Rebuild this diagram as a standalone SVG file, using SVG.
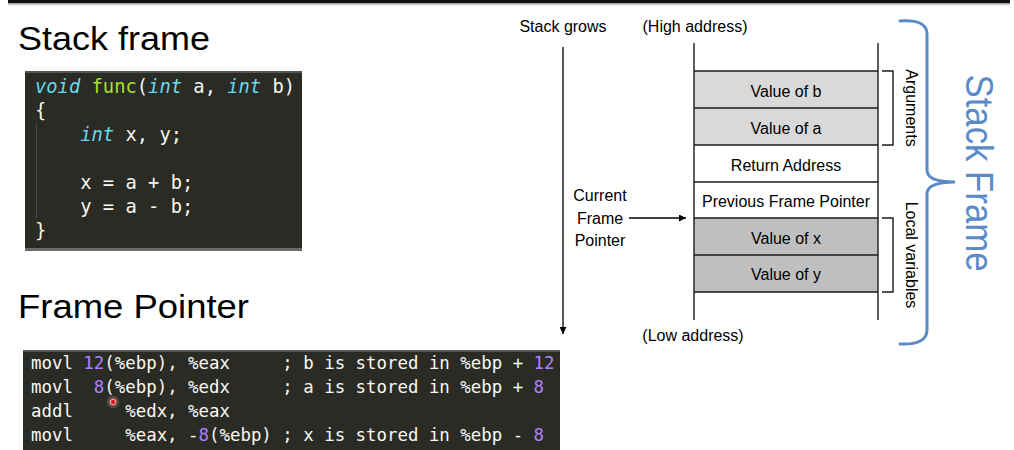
<svg xmlns="http://www.w3.org/2000/svg" width="1014" height="450" viewBox="0 0 1014 450">
  <defs>
    <linearGradient id="shadow" x1="0" y1="0" x2="0" y2="1">
      <stop offset="0" stop-color="#888"/>
      <stop offset="1" stop-color="#fff" stop-opacity="0"/>
    </linearGradient>
    <marker id="arrow" viewBox="0 0 10 10" refX="10" refY="5" markerWidth="7" markerHeight="7" markerUnits="userSpaceOnUse" orient="auto">
      <path d="M0,0 L10,5 L0,10 Z" fill="#000"/>
    </marker>
    <radialGradient id="glow">
      <stop offset="0" stop-color="#f08080" stop-opacity="0.8"/>
      <stop offset="1" stop-color="#f8c0c0" stop-opacity="0"/>
    </radialGradient>
  </defs>
  <style>
    .title { font-family: "Liberation Sans", Arial, sans-serif; font-size: 33px; fill: #000; }
    .lbl { font-family: "Liberation Sans", Arial, sans-serif; font-size: 16px; fill: #000; }
    .cell { font-family: "Liberation Sans", Arial, sans-serif; font-size: 16px; fill: #000; text-anchor: middle; }
    .code1 { font-family: "DejaVu Sans Mono", "Liberation Mono", monospace; font-size: 18.8px; fill: #f8f8f2; white-space: pre; }
    .code2 { font-family: "DejaVu Sans Mono", "Liberation Mono", monospace; font-size: 17.4px; fill: #f8f8f2; white-space: pre; }
    .kw { fill: #66d9ef; font-style: italic; }
    .fn { fill: #a6e22e; }
    .num { fill: #ae81ff; }
    .line { stroke: #1a1a1a; stroke-width: 1.4; fill: none; }
    .light { fill: #d9d9d9; }
    .dark { fill: #bfbfbf; }
    .brace { stroke: #5b8ac8; stroke-width: 3; fill: none; stroke-linecap: round; }
  </style>

  <!-- top bar -->
  <g id="topbar">
    <rect x="8" y="0" width="1002" height="3" fill="#111"/>
    <rect x="8" y="3" width="1002" height="4" fill="url(#shadow)"/>
  </g>

  <!-- titles -->
  <g id="title-stack-frame">
    <text class="title" x="18" y="50" textLength="192" lengthAdjust="spacingAndGlyphs">Stack frame</text>
  </g>
  <g id="title-frame-pointer">
    <text class="title" x="18" y="318" textLength="231" lengthAdjust="spacingAndGlyphs">Frame Pointer</text>
  </g>

  <!-- C code block -->
  <g id="code-c">
    <rect x="25" y="71" width="277" height="180" fill="#2a2b24"/>
    <rect x="25" y="71" width="277" height="2" fill="#55564f"/>
    <rect x="25" y="248" width="277" height="3" fill="#6b6b6b"/>
    <line x1="36.5" y1="124" x2="36.5" y2="218" stroke="#4a4b44" stroke-width="1"/>
    <text class="code1" xml:space="preserve" x="35" y="93"><tspan class="kw">void</tspan> <tspan class="fn">func</tspan>(<tspan class="kw">int</tspan> a, <tspan class="kw">int</tspan> b)</text>
    <text class="code1" xml:space="preserve" x="35" y="117">{</text>
    <text class="code1" xml:space="preserve" x="35" y="141">    <tspan class="kw">int</tspan> x, y;</text>
    <text class="code1" xml:space="preserve" x="35" y="189">    x = a + b;</text>
    <text class="code1" xml:space="preserve" x="35" y="213">    y = a - b;</text>
    <text class="code1" xml:space="preserve" x="35" y="237">}</text>
  </g>

  <!-- assembly code block -->
  <g id="code-asm">
    <rect x="23" y="350" width="537" height="100" fill="#2a2b24"/>
    <rect x="23" y="350" width="537" height="2" fill="#55564f"/>
    <text class="code2" xml:space="preserve" x="31" y="369">movl <tspan class="num">12</tspan>(%ebp), %eax     ; b is stored in %ebp + <tspan class="num">12</tspan></text>
    <text class="code2" xml:space="preserve" x="31" y="393">movl  <tspan class="num">8</tspan>(%ebp), %edx     ; a is stored in %ebp + <tspan class="num">8</tspan></text>
    <text class="code2" xml:space="preserve" x="31" y="417">addl     %edx, %eax</text>
    <text class="code2" xml:space="preserve" x="31" y="441">movl     %eax, -<tspan class="num">8</tspan>(%ebp) ; x is stored in %ebp - <tspan class="num">8</tspan></text>
    <circle cx="113" cy="402" r="7" fill="url(#glow)"/>
    <circle cx="113" cy="402" r="2.6" fill="#e01010" stroke="#f6d0d0" stroke-width="0.8"/>
  </g>

  <!-- labels -->
  <g id="label-stack-grows">
    <text class="lbl" x="563" y="32" text-anchor="middle">Stack grows</text>
  </g>
  <g id="label-high">
    <text class="lbl" x="695" y="32" text-anchor="middle">(High address)</text>
  </g>
  <g id="label-low">
    <text class="lbl" x="693" y="341" text-anchor="middle">(Low address)</text>
  </g>
  <g id="label-current-fp">
    <text class="lbl" x="600" y="201" text-anchor="middle">Current</text>
    <text class="lbl" x="600" y="224" text-anchor="middle">Frame</text>
    <text class="lbl" x="600" y="246" text-anchor="middle">Pointer</text>
  </g>

  <!-- stack -->
  <g id="stack">
    <rect class="light" x="694" y="71" width="184" height="74"/>
    <rect class="dark" x="694" y="218" width="184" height="74"/>
    <line class="line" x1="694" y1="43" x2="694" y2="320"/>
    <line class="line" x1="878" y1="43" x2="878" y2="320"/>
  </g>
  <g id="row-b">
    <line class="line" x1="694" y1="71" x2="878" y2="71"/>
    <text class="cell" x="786" y="97">Value of b</text>
  </g>
  <g id="row-a">
    <line class="line" x1="694" y1="108" x2="878" y2="108"/>
    <text class="cell" x="786" y="134">Value of a</text>
  </g>
  <g id="row-ret">
    <line class="line" x1="694" y1="145" x2="878" y2="145"/>
    <text class="cell" x="786" y="171">Return Address</text>
  </g>
  <g id="row-prev">
    <line class="line" x1="694" y1="182" x2="878" y2="182"/>
    <text class="cell" x="786" y="207">Previous Frame Pointer</text>
  </g>
  <g id="row-x">
    <line class="line" x1="694" y1="218" x2="878" y2="218"/>
    <text class="cell" x="786" y="244">Value of x</text>
  </g>
  <g id="row-y">
    <line class="line" x1="694" y1="255" x2="878" y2="255"/>
    <line class="line" x1="694" y1="292" x2="878" y2="292"/>
    <text class="cell" x="786" y="280">Value of y</text>
  </g>

  <!-- side brackets -->
  <g id="arguments">
    <path class="line" d="M882,71 H893 V145 H882"/>
    <text class="lbl" transform="translate(906,108) rotate(90)" text-anchor="middle" font-size="15">Arguments</text>
  </g>
  <g id="local-variables">
    <path class="line" d="M882,218 H893 V292 H882"/>
    <text class="lbl" transform="translate(906,255) rotate(90)" text-anchor="middle" font-size="15">Local variables</text>
  </g>

  <g id="stack-frame-brace">
    <path class="brace" d="M900,21 Q927,19 927,34 L927,170 Q927,182 955,182 Q927,182 927,194 L927,330 Q927,345 900,344"/>
    <text transform="translate(966,173) rotate(90)" text-anchor="middle" font-family="Liberation Sans, Arial, sans-serif" font-size="38" fill="#5b8ac8" textLength="197" lengthAdjust="spacingAndGlyphs">Stack Frame</text>
  </g>

  <!-- connectors -->
  <g id="connectors">
    <line x1="563" y1="47" x2="563" y2="334" stroke="#000" stroke-width="1.3" marker-end="url(#arrow)"/>
    <line x1="629" y1="218" x2="686" y2="218" stroke="#000" stroke-width="1.3" marker-end="url(#arrow)"/>
  </g>
</svg>
